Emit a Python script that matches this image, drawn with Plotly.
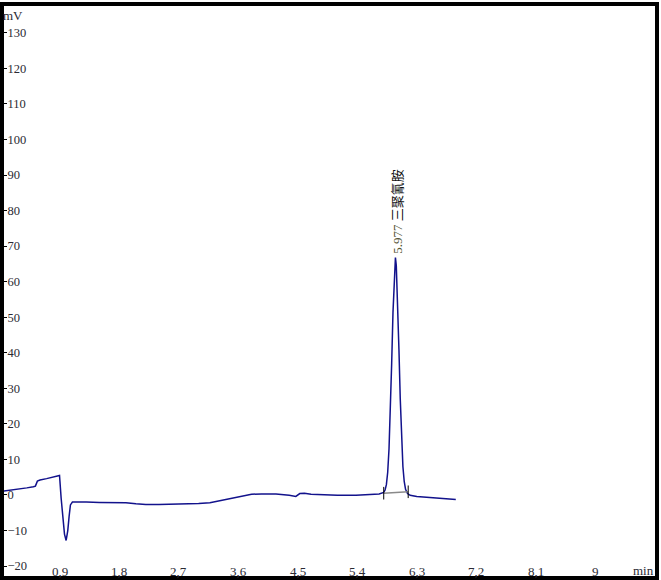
import plotly.graph_objects as go

# Chromatogram signal (time in min, signal in mV)
time_min = [0.00, 0.10, 0.20, 0.30, 0.40, 0.50, 0.53, 0.56, 0.60, 0.70, 0.80, 0.88, 0.895,
            0.92, 0.94, 0.97, 0.995, 1.02, 1.04, 1.06, 1.09, 1.20, 1.30, 1.50, 1.70, 1.90,
            2.05, 2.20, 2.40, 2.70, 3.00, 3.17, 3.27, 3.40, 3.52, 3.65, 3.80, 3.95, 4.17,
            4.37, 4.47, 4.53, 4.60, 4.70, 4.87, 5.10, 5.38, 5.60, 5.73, 5.80, 5.82, 5.84,
            5.86, 5.88, 5.90, 5.92, 5.94, 5.96, 5.977, 5.99, 6.01, 6.03, 6.05, 6.07, 6.09,
            6.11, 6.13, 6.16, 6.20, 6.30, 6.45, 6.60, 6.75, 6.89]
signal_mv = [1.0, 1.2, 1.5, 1.7, 2.0, 2.3, 2.5, 3.9, 4.2, 4.6, 5.0, 5.4, 5.5,
             -1.0, -6.0, -11.0, -12.8, -10.0, -6.0, -2.8, -2.0, -1.9, -2.0, -2.1, -2.1, -2.2,
             -2.5, -2.7, -2.7, -2.6, -2.4, -2.2, -1.8, -1.3, -0.8, -0.2, 0.2, 0.3, 0.3,
             -0.1, -0.4, 0.4, 0.5, 0.2, 0.0, -0.1, -0.1, 0.1, 0.3, 0.7, 1.4, 2.9,
             6.4, 13.0, 23.4, 37.0, 51.4, 62.6, 66.8, 64.5, 55.0, 41.0, 27.0, 15.5, 8.0,
             3.8, 1.6, 0.4, -0.1, -0.4, -0.6, -0.9, -1.2, -1.3]

# Integration baseline of the peak
baseline_t = [5.80, 6.17]
baseline_mv = [0.5, 0.9]

peak_time = 5.977
peak_height = 66.8
peak_rt_text = "5.977"
peak_name = "三聚氰胺"

x_tick_vals = [0.9, 1.8, 2.7, 3.6, 4.5, 5.4, 6.3, 7.2, 8.1, 9.0]
x_tick_text = ["0,9", "1,8", "2,7", "3,6", "4,5", "5,4", "6,3", "7,2", "8,1", "9"]
y_tick_vals = [-20, -10, 0, 10, 20, 30, 40, 50, 60, 70, 80, 90, 100, 110, 120, 130]

font_serif = "Liberation Serif, Times New Roman, serif"
label_color = "#2a2a33"

fig = go.Figure()
fig.add_trace(go.Scatter(x=time_min, y=signal_mv, mode="lines",
                         line=dict(color="#12128c", width=1.5), hoverinfo="skip"))
fig.add_trace(go.Scatter(x=baseline_t, y=baseline_mv, mode="lines+markers",
                         line=dict(color="#8a8a8a", width=1.5),
                         marker=dict(symbol="line-ns", size=9,
                                     line=dict(color="black", width=1)),
                         hoverinfo="skip"))

fig.add_annotation(x=peak_time, y=peak_height + 0.5, xref="x", yref="y",
                   text=f"<span style='color:#555533'>{peak_rt_text}</span> {peak_name}",
                   textangle=-90, showarrow=False, xanchor="center", yanchor="bottom",
                   xshift=2,
                   font=dict(family="Liberation Serif, Noto Sans CJK SC", size=13, color="#111"))

# x tick labels drawn inside the frame, above the bottom line
for xv, xt in zip(x_tick_vals, x_tick_text):
    fig.add_annotation(x=xv, y=0.0087, xref="x", yref="paper", text=xt,
                       showarrow=False, xanchor="center", yanchor="middle",
                       font=dict(family=font_serif, size=13, color=label_color))

fig.add_annotation(x=0.9816, y=0.0105, xref="paper", yref="paper", text="min",
                   showarrow=False, xanchor="center", yanchor="middle",
                   font=dict(family=font_serif, size=13, color=label_color))
fig.add_annotation(x=0.014, y=0.984, xref="paper", yref="paper", text="mV",
                   showarrow=False, xanchor="center", yanchor="middle",
                   font=dict(family=font_serif, size=13, color=label_color))

fig.update_layout(
    width=661, height=580,
    margin=dict(l=4, r=4, t=2, b=4, pad=0),
    paper_bgcolor="white", plot_bgcolor="white",
    showlegend=False,
    xaxis=dict(range=[0.055, 9.904], tickvals=x_tick_vals, showticklabels=False,
               ticks="", showgrid=False, zeroline=False,
               showline=True, mirror=True, linecolor="black", linewidth=4),
    yaxis=dict(range=[-22.79, 137.54], tickvals=y_tick_vals,
               ticks="inside", ticklen=3, tickcolor="black", tickwidth=1,
               ticklabelposition="inside", showgrid=False, zeroline=False,
               showline=True, mirror=True, linecolor="black", linewidth=4,
               tickfont=dict(family=font_serif, size=12.5, color=label_color)),
)

fig.write_html("out.html", config={"displayModeBar": False},
               post_script="document.body.style.margin='0';document.body.style.overflow='hidden';")
